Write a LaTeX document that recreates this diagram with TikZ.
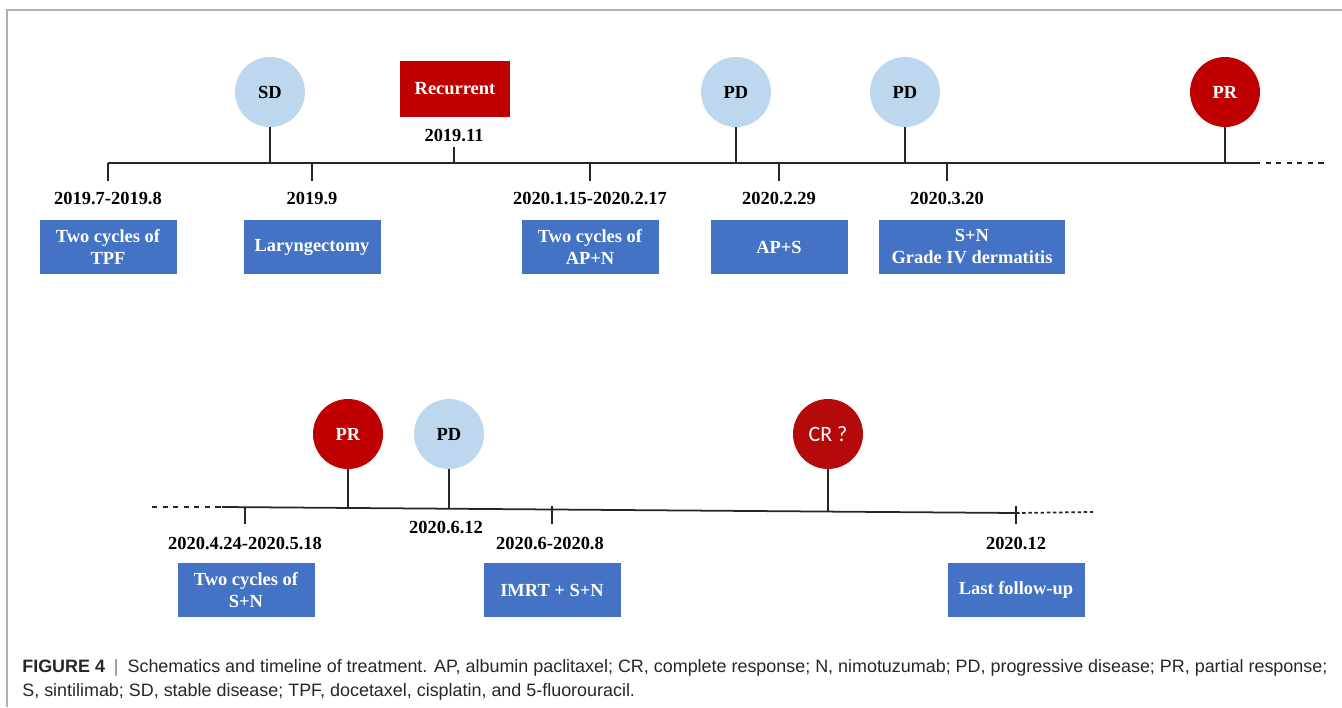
\documentclass[tikz,border=0pt]{standalone}
\usepackage{fontspec}
\setmainfont{Liberation Serif}
\setsansfont{Liberation Sans}
\newfontfamily\crfont{Carlito}
\usetikzlibrary{shapes.geometric}

\definecolor{StableColor}{rgb}{0.741,0.843,0.933}
\definecolor{ResponseColor}{rgb}{0.753,0.0,0.0}
\definecolor{CompleteColor}{rgb}{0.706,0.039,0.039}
\definecolor{TreatmentColor}{rgb}{0.267,0.447,0.769}
\definecolor{FrameColor}{rgb}{0.69,0.69,0.69}

\tikzstyle{labelfont}=[font=\fontsize{10.5}{12.5}\selectfont\bfseries]
\tikzstyle{status}=[circle,
                    minimum size=1.4cm,
                    inner sep=0pt,
                    labelfont]
\tikzstyle{stable}=[status, fill={StableColor}]
\tikzstyle{response}=[status, fill={ResponseColor}, text=white]
\tikzstyle{treatment}=[rectangle,
                    fill={TreatmentColor},
                    text=white,
                    minimum width=2.74cm,
                    minimum height=1.08cm,
                    inner sep=1pt,
                    align=center,
                    labelfont]
\tikzstyle{date}=[labelfont, inner sep=0pt]
\tikzstyle{timeline}=[line width=1pt, black!85]
\tikzstyle{tick}=[line width=0.8pt, black!85]
\tikzstyle{caption}=[font=\sffamily\fontsize{10.2}{12}\selectfont, anchor=west, inner sep=0pt, text=black!85]

\begin{document}
\begin{tikzpicture}
    \useasboundingbox (0,0) rectangle (26.84,-14.14);
    \draw[FrameColor, line width=0.7pt] (0.14,-14.14) -- (0.14,-0.20) -- (26.84,-0.20);

    % first part
    \node at ( 5.40, -1.84) (sd)          [stable]                          {SD};
    \node at ( 9.10, -1.78) (recurrent)   [rectangle, fill={ResponseColor}, text=white, minimum width=2.2cm, minimum height=1.12cm, labelfont] {Recurrent};
    \node at (14.72, -1.84) (pd_a)        [stable]                          {PD};
    \node at (18.10, -1.84) (pd_b)        [stable]                          {PD};
    \node at (24.50, -1.84) (pr_a)        [response]                        {PR};
    \node at ( 9.08, -2.70) (d_2019_11)   [date]                            {2019.11};

    \node at ( 2.16, -3.96) (d_2019_7)    [date]                            {2019.7-2019.8};
    \node at ( 6.24, -3.96) (d_2019_9)    [date]                            {2019.9};
    \node at (11.80, -3.96) (d_2020_1)    [date]                            {2020.1.15-2020.2.17};
    \node at (15.58, -3.96) (d_2020_2)    [date]                            {2020.2.29};
    \node at (18.94, -3.96) (d_2020_3)    [date]                            {2020.3.20};

    \node at ( 2.16, -4.94) (tpf)         [treatment]                       {Two cycles of\\TPF};
    \node at ( 6.24, -4.94) (laryngect)   [treatment]                       {Laryngectomy};
    \node at (11.80, -4.94) (ap_n)        [treatment]                       {Two cycles of\\AP+N};
    \node at (15.58, -4.94) (ap_s)        [treatment]                       {AP+S};
    \node at (19.44, -4.94) (s_n_derm)    [treatment, minimum width=3.72cm] {S+N\\Grade IV dermatitis};

    \coordinate (top_start) at ( 2.16, -3.26);
    \coordinate (top_end)   at (25.10, -3.26);
    \coordinate (top_dash)  at (26.50, -3.26);
    \coordinate (tick_a)    at ( 2.16, -3.62);
    \coordinate (sd_base)   at ( 5.40, -3.26);
    \coordinate (tick_b0)   at ( 6.24, -3.26);
    \coordinate (tick_b)    at ( 6.24, -3.62);
    \coordinate (tick_c0)   at ( 9.08, -3.26);
    \coordinate (tick_c)    at ( 9.08, -2.94);
    \coordinate (tick_d0)   at (11.80, -3.26);
    \coordinate (tick_d)    at (11.80, -3.62);
    \coordinate (pd_a_base) at (14.72, -3.26);
    \coordinate (tick_e0)   at (15.58, -3.26);
    \coordinate (tick_e)    at (15.58, -3.62);
    \coordinate (pd_b_base) at (18.10, -3.26);
    \coordinate (tick_f0)   at (18.94, -3.26);
    \coordinate (tick_f)    at (18.94, -3.62);
    \coordinate (pr_a_base) at (24.50, -3.26);

     \draw[timeline] (top_start) -- (top_end);
     \draw[timeline, dashed] (top_end) -- (top_dash);
     \draw[tick] (top_start) -- (tick_a);
     \draw[tick] (sd)        -- (sd_base);
     \draw[tick] (tick_b0)   -- (tick_b);
     \draw[tick] (tick_c0)   -- (tick_c);
     \draw[tick] (tick_d0)   -- (tick_d);
     \draw[tick] (pd_a)      -- (pd_a_base);
     \draw[tick] (tick_e0)   -- (tick_e);
     \draw[tick] (pd_b)      -- (pd_b_base);
     \draw[tick] (tick_f0)   -- (tick_f);
     \draw[tick] (pr_a)      -- (pr_a_base);

    % second part
    \node at ( 6.96, -8.68) (pr_b)        [response]                        {PR};
    \node at ( 8.98, -8.68) (pd_c)        [stable]                          {PD};
    \node at (16.56, -8.68) (cr)          [status, fill={CompleteColor}, text=white, font=\crfont\fontsize{12.5}{14}\selectfont] {CR ?};

    \node at ( 4.90,-10.86) (d_2020_4)    [date]                            {2020.4.24-2020.5.18};
    \node at ( 8.92,-10.54) (d_2020_6)    [date]                            {2020.6.12};
    \node at (11.00,-10.86) (d_2020_68)   [date]                            {2020.6-2020.8};
    \node at (20.32,-10.86) (d_2020_12)   [date]                            {2020.12};

    \node at ( 4.92,-11.80) (s_n)         [treatment]                       {Two cycles of\\S+N};
    \node at (11.04,-11.80) (imrt)        [treatment]                       {IMRT + S+N};
    \node at (20.32,-11.80) (last)        [treatment]                       {Last follow-up};

    \coordinate (bot_dash)  at ( 3.04,-10.14);
    \coordinate (bot_start) at ( 4.44,-10.14);
    \coordinate (bot_end)   at (20.32,-10.26);
    \coordinate (bot_far)   at (21.86,-10.24);
    \coordinate (tick_g0)   at ( 4.90,-10.14);
    \coordinate (tick_g)    at ( 4.90,-10.48);
    \coordinate (pr_b_base) at ( 6.96,-10.16);
    \coordinate (pd_c_base) at ( 8.98,-10.17);
    \coordinate (tick_h0)   at (11.04,-10.12);
    \coordinate (tick_h)    at (11.04,-10.48);
    \coordinate (cr_base)   at (16.56,-10.23);
    \coordinate (tick_i0)   at (20.32,-10.12);
    \coordinate (tick_i)    at (20.32,-10.48);

     \draw[timeline, dashed] (bot_dash) -- (bot_start);
     \draw[timeline] (bot_start) -- (bot_end);
     \draw[timeline, dash pattern=on 2pt off 1.5pt] (bot_end) -- (bot_far);
     \draw[tick] (tick_g0) -- (tick_g);
     \draw[tick] (pr_b)    -- (pr_b_base);
     \draw[tick] (pd_c)    -- (pd_c_base);
     \draw[tick] (tick_h0) -- (tick_h);
     \draw[tick] (cr)      -- (cr_base);
     \draw[tick] (tick_i0) -- (tick_i);

    % caption
    \node at (0.44,-13.36) (caption_a) [caption] {\textbf{FIGURE 4}\enspace\textcolor{black!50}{|}\enspace Schematics and timeline of treatment. AP, albumin paclitaxel; CR, complete response; N, nimotuzumab; PD, progressive disease; PR, partial response;};
    \node at (0.44,-13.84) (caption_b) [caption] {S, sintilimab; SD, stable disease; TPF, docetaxel, cisplatin, and 5-fluorouracil.};
  \end{tikzpicture}
\end{document}
